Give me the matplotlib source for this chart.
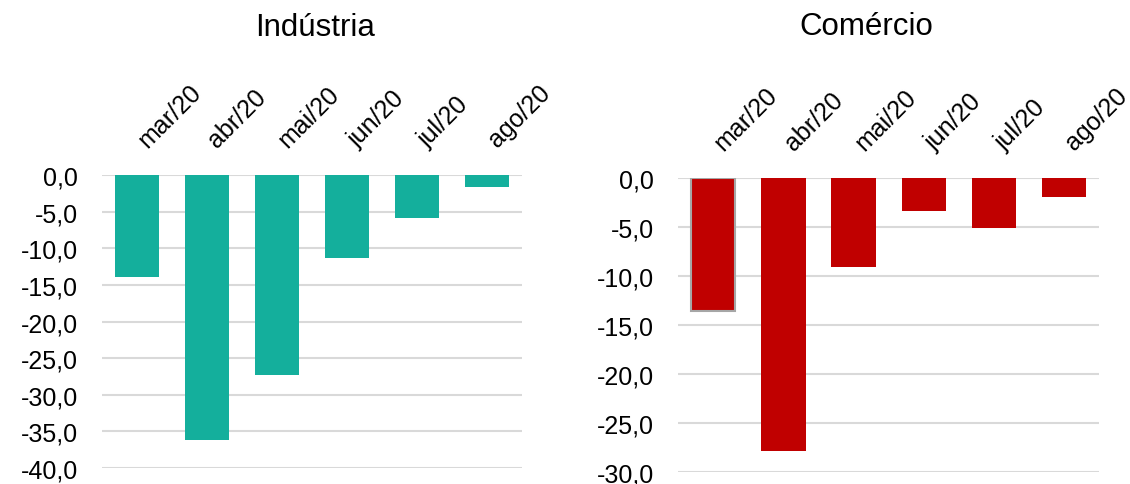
import matplotlib.pyplot as plt
from matplotlib.ticker import FuncFormatter
from matplotlib.transforms import ScaledTranslation

plt.rcParams['font.family'] = ['Liberation Sans', 'DejaVu Sans']

meses = ['mar/20', 'abr/20', 'mai/20', 'jun/20', 'jul/20', 'ago/20']
industria = [-13.9, -36.2, -27.3, -11.3, -5.9, -1.6]
comercio = [-13.6, -27.9, -9.1, -3.4, -5.1, -1.9]

cor_ind = '#14AF9C'
cor_com = '#C00000'

fig = plt.figure(figsize=(11.3, 4.85), dpi=100)
ax1 = fig.add_axes([0.0903, 0.033, 0.3717, 0.604])
ax2 = fig.add_axes([0.600, 0.0247, 0.373, 0.606])

fmt = FuncFormatter(lambda v, p: f'{v:.1f}'.replace('.', ','))

def desenha(ax, valores, cor, ymin, edge=None):
    x = list(range(len(valores)))
    bars = ax.bar(x, valores, width=0.63, color=cor, zorder=3)
    if edge is not None:
        bars[0].set_edgecolor(edge)
        bars[0].set_linewidth(1.5)
    ax.set_xlim(-0.5, len(valores) - 0.5)
    ax.set_ylim(ymin, 0)
    ax.set_yticks(range(0, ymin - 1, -5))
    ax.yaxis.set_major_formatter(fmt)
    ax.grid(axis='y', color='#d9d9d9', linewidth=1.5, zorder=0)
    for s in ax.spines.values():
        s.set_visible(False)
    ax.tick_params(axis='y', length=0, pad=17.5, labelsize=18)
    ax.set_xticks([])
    # rotulos dos meses acima do grafico
    off = ax.get_xaxis_transform() + ScaledTranslation(10 / 72, 17 / 72, fig.dpi_scale_trans)
    for i, m in zip(x, meses):
        ax.text(i, 1.0, m, transform=off, rotation=45, ha='left', va='bottom',
                rotation_mode='anchor', fontsize=18)

desenha(ax1, industria, cor_ind, -40)
desenha(ax2, comercio, cor_com, -30, edge='#a6a6a6')

fig.text(315 / 1130, 1 - 36 / 485, 'Indústria', ha='center', va='baseline', fontsize=22.5)
fig.text(866 / 1130, 1 - 35 / 485, 'Comércio', ha='center', va='baseline', fontsize=22.5)

fig.savefig('out.png', dpi=100)
